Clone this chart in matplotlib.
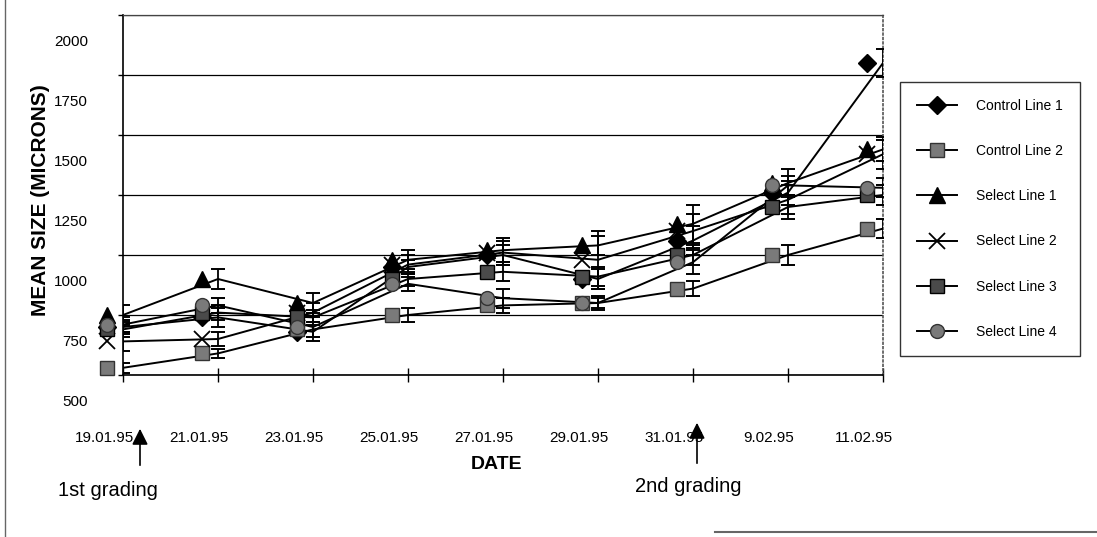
import matplotlib
matplotlib.use('Agg')
import matplotlib.pyplot as plt
import matplotlib.transforms as mtransforms
from matplotlib.lines import Line2D
import numpy as np

# --- Data ---
dates = ['19.01.95', '21.01.95', '23.01.95', '25.01.95', '27.01.95',
         '29.01.95', '31.01.95', '9.02.95', '11.02.95']
names = ['Control Line 1', 'Control Line 2', 'Select Line 1',
         'Select Line 2', 'Select Line 3', 'Select Line 4']

control1 = [700, 740, 680, 950, 1000, 900, 1060, 1260, 1800]
control2 = [530, 590, 690, 750, 790, 800, 860, 1000, 1110]
select1 = [750, 900, 800, 980, 1020, 1040, 1130, 1300, 1440]
select2 = [640, 650, 760, 960, 1010, 980, 1100, 1230, 1420]
select3 = [690, 760, 740, 900, 930, 910, 1000, 1200, 1250]
select4 = [710, 790, 700, 880, 820, 800, 970, 1290, 1280]

control1_err = [30, 40, 40, 30, 40, 40, 60, 50, 60]
control2_err = [20, 20, 30, 30, 30, 20, 30, 40, 40]
select1_err = [40, 40, 40, 40, 50, 40, 80, 60, 50]
select2_err = [40, 30, 40, 40, 50, 120, 70, 60, 60]
select3_err = [30, 30, 30, 30, 40, 40, 40, 50, 40]
select4_err = [30, 30, 40, 30, 40, 30, 50, 40, 40]

yticks = [500, 750, 1000, 1250, 1500, 1750, 2000]

series = [control1, control2, select1, select2, select3, select4]
errors = [control1_err, control2_err, select1_err, select2_err,
          select3_err, select4_err]
styles = [
    dict(marker='D', ms=9, mfc='black', mec='black'),
    dict(marker='s', ms=10, mfc='#7a7a7a', mec='#333333'),
    dict(marker='^', ms=11, mfc='black', mec='black'),
    dict(marker='x', ms=11, mec='black', mew=1.3),
    dict(marker='s', ms=10, mfc='#4a4a4a', mec='black'),
    dict(marker='o', ms=10, mfc='#7a7a7a', mec='#333333'),
]

plt.rcParams['font.family'] = ['Liberation Sans', 'DejaVu Sans']

fig = plt.figure(figsize=(10.97, 5.37), dpi=100)
ax = fig.add_axes([123 / 1097, 1 - 375 / 537, 760 / 1097, 360 / 537])

x = np.arange(len(dates))
# the scan has the marker layer shifted left of the lines
shift = mtransforms.ScaledTranslation(-16 / 100, 0, fig.dpi_scale_trans)

for vals, errs, st in zip(series, errors, styles):
    ax.errorbar(x, vals, yerr=errs, color='black', lw=1.4, capsize=5,
                capthick=1.4, elinewidth=1.3, zorder=3)
    ax.plot(x, vals, ls='none', transform=ax.transData + shift,
            clip_on=False, zorder=4, **st)

# --- Axes ---
ax.set_xlim(0, len(dates) - 1)
ax.set_ylim(500, 2000)
ax.set_yticks(yticks)
ax.set_xticks(x)
ax.set_xticklabels(dates)
ax.yaxis.grid(True, color='black', lw=0.9)
ax.set_axisbelow(True)

# sizes below are in points (1 px = 0.72 pt at 100 dpi)
ax.tick_params(axis='y', direction='out', length=3.6, width=1,
               labelsize=11, pad=21.6)
ax.tick_params(axis='x', direction='inout', length=10, width=1,
               labelsize=11, pad=35)

# tick labels are misregistered in the scan too
dy = mtransforms.ScaledTranslation(0, -25 / 100, fig.dpi_scale_trans)
for lab in ax.get_yticklabels():
    lab.set_transform(lab.get_transform() + dy)
dx = mtransforms.ScaledTranslation(-19 / 100, 0, fig.dpi_scale_trans)
for lab in ax.get_xticklabels():
    lab.set_transform(lab.get_transform() + dx)

ax.spines['left'].set_linewidth(1.2)
ax.spines['bottom'].set_linewidth(1.2)
ax.spines['top'].set_color('#444444')
ax.spines['top'].set_linewidth(0.9)
ax.spines['right'].set_color('#555555')
ax.spines['right'].set_linestyle(':')
ax.spines['right'].set_linewidth(1.2)

ax.set_ylabel('MEAN SIZE (MICRONS)', fontsize=15, fontweight='bold')
ax.yaxis.set_label_coords((50 - 123) / 760, (375 - 200) / 360)
ax.set_xlabel('DATE', fontsize=14, fontweight='bold')
ax.xaxis.set_label_coords((497 - 123) / 760, (375 - 456) / 360)

# --- Legend ---
handles = [Line2D([], [], color='black', lw=1.4, **st) for st in styles]
leg = fig.legend(handles, names, loc='upper left',
                 bbox_to_anchor=(900 / 1097, 1 - 82 / 537),
                 fontsize=10, frameon=True, fancybox=False, shadow=False,
                 borderpad=1.2, labelspacing=2.25, handlelength=2.9,
                 handletextpad=1.4, borderaxespad=0)
leg.get_frame().set_edgecolor('black')
leg.get_frame().set_linewidth(1.0)

# --- Grading annotations ---
ax.annotate('', xy=(140, 537 - 426), xycoords='figure pixels',
            xytext=(140, 537 - 468),
            arrowprops=dict(arrowstyle='-|>', color='black', lw=1.2,
                            mutation_scale=24))
ax.annotate('', xy=(697, 537 - 420), xycoords='figure pixels',
            xytext=(697, 537 - 466),
            arrowprops=dict(arrowstyle='-|>', color='black', lw=1.2,
                            mutation_scale=24))
fig.text(108 / 1097, 1 - 490 / 537, '1st grading', fontsize=14.5,
         ha='center', va='center')
fig.text(688 / 1097, 1 - 487 / 537, '2nd grading', fontsize=14.5,
         ha='center', va='center')

# page frame bits from the scan
fig.add_artist(Line2D([5 / 1097, 5 / 1097], [0, 1], color='#666666',
                      lw=1, transform=fig.transFigure))
fig.add_artist(Line2D([715 / 1097, 1], [1 - 532 / 537, 1 - 532 / 537],
                      color='#666666', lw=1.5, transform=fig.transFigure))

fig.savefig('out.png', dpi=100)
